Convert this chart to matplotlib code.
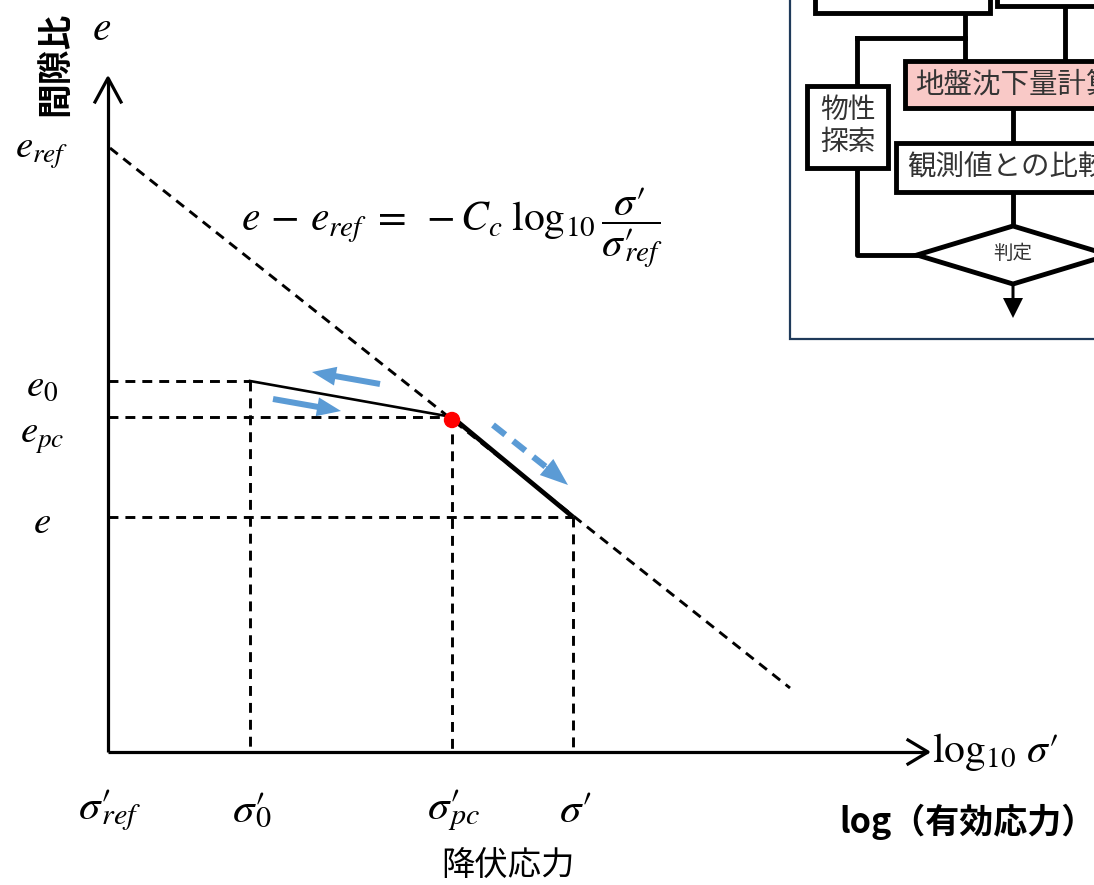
import matplotlib.pyplot as plt
from matplotlib.patches import Rectangle, Polygon, Circle

plt.rcParams['mathtext.fontset'] = 'stix'
CJK = ['Noto Sans CJK JP', 'DejaVu Sans']

# 図の座標（ピクセル、y は下向き）
ax_x0, ax_y0 = 108, 752          # 原点
ax_xend, ax_ytop = 928, 78       # 軸の先端
sigma_x = [108, 250, 452, 573]   # σ'_ref, σ'_0, σ'_pc, σ'
sigma_lbl = [r"$\sigma′_{\!\!\!ref}$", r"$\sigma′_{\!\!\!0}$", r"$\sigma′_{\!\!\!pc}$", r"$\sigma′$"]
e_y = [148, 381, 417, 517]       # e_ref, e_0, e_pc, e
e_lbl = [r"$e_{ref}$", r"$e_0$", r"$e_{pc}$", r"$e$"]
e_lbl_y = [152, 385, 437, 522]
ncl_end = (790, 688)             # 正規圧密線の終点
blue = '#5b9bd5'

fig = plt.figure(figsize=(10.94, 8.85), dpi=100)
ax = fig.add_axes([0, 0, 1, 1])
ax.set_xlim(0, 1094)
ax.set_ylim(885, 0)
ax.axis('off')

dash = (0, (3.4, 2.4))
# 軸
ax.plot([ax_x0, ax_x0], [ax_y0, ax_ytop], color='k', lw=2.3, solid_capstyle='butt')
ax.plot([ax_x0, ax_xend], [ax_y0, ax_y0], color='k', lw=2.3, solid_capstyle='butt')
ax.plot([ax_x0 - 13, ax_x0, ax_x0 + 13], [ax_ytop + 24, ax_ytop, ax_ytop + 24], color='k', lw=2.3)
ax.plot([ax_xend - 20, ax_xend, ax_xend - 20], [ax_y0 - 12, ax_y0, ax_y0 + 12], color='k', lw=2.3)

# 正規圧密線（破線）
ax.plot([sigma_x[0] + 2, ncl_end[0]], [e_y[0], ncl_end[1]], color='k', lw=2.1, linestyle=dash)

# 補助線
for sx, ey in zip(sigma_x[1:], e_y[1:]):
    ax.plot([ax_x0, sx], [ey, ey], color='k', lw=2.1, linestyle=dash)
    ax.plot([sx, sx], [ey, ax_y0], color='k', lw=2.1, linestyle=dash)

# 過圧密・正規圧密の経路
ax.plot([sigma_x[1], sigma_x[2]], [e_y[1], e_y[2]], color='k', lw=1.9)
ax.plot([sigma_x[2], sigma_x[3]], [e_y[2], e_y[3]], color='k', lw=3.4, solid_capstyle='butt')
ax.add_patch(Circle((sigma_x[2], e_y[2] + 3), 7.5, color='red', zorder=5))

# 青い矢印
ax.arrow(380, 384, -68, -12, width=6, head_width=19, head_length=24,
         length_includes_head=True, color=blue, lw=0)
ax.arrow(273, 399, 68, 12, width=6, head_width=19, head_length=24,
         length_includes_head=True, color=blue, lw=0)
ax.plot([493, 546], [425, 467], color=blue, lw=4.5, linestyle=(0, (2.5, 1.6)), solid_capstyle='butt')
ax.arrow(543, 464, 25, 21, width=1, head_width=21, head_length=28,
         length_includes_head=True, color=blue, lw=0)

# ラベル
ax.text(102, 28, r"$e$", fontsize=30, ha='center', va='center')
for yy, lb in zip(e_lbl_y, e_lbl):
    ax.text(42, yy, lb, fontsize=28, ha='center', va='center')
for sx, lb in zip(sigma_x, sigma_lbl):
    ax.text(sx + 2, 810, lb, fontsize=31, ha='center', va='center')
ax.text(452, 228,
        r"$e\,-\,e_{ref}\;=\;-C_c\;\log_{10}\dfrac{\sigma′}{\sigma′_{\!\!\!ref}}$",
        fontsize=30, ha='center', va='center')
ax.text(932, 752, r"$\log_{10}\,\sigma′$", fontsize=30, ha='left', va='center')
ax.text(55, 64, '間隙比', fontsize=25, fontweight='bold', rotation=90,
        ha='center', va='center', family=CJK)
ax.text(1096, 822, 'log（有効応力）', fontsize=24.5, fontweight='bold',
        ha='right', va='center', family=CJK)
ax.text(508, 866, '降伏応力', fontsize=24, ha='center', va='center', family=CJK)

# 右上のフローチャート
lw_f = 3.5
fc = '#333333'
ax.add_patch(Rectangle((790, -10), 320, 349, fill=False, ec='#1f3a5a', lw=1.6, zorder=3))
ax.add_patch(Rectangle((815, -20), 175, 33, fc='white', ec='k', lw=lw_f, zorder=4))
ax.add_patch(Rectangle((997, -20), 120, 26, fc='white', ec='k', lw=lw_f, zorder=4))
ax.plot([965, 965], [13, 60], color='k', lw=lw_f)
ax.plot([1065, 1065], [6, 60], color='k', lw=lw_f)
ax.plot([857, 965], [38, 38], color='k', lw=lw_f)
ax.plot([857, 857], [38, 85], color='k', lw=lw_f)
ax.add_patch(Rectangle((905, 61), 210, 47, fc='#f9c9c7', ec='k', lw=lw_f, zorder=4))
ax.text(915, 85, '地盤沈下量計算', fontsize=20.5, ha='left', va='center', color=fc,
        family=CJK, zorder=5, clip_on=True)
ax.add_patch(Rectangle((807, 86), 81, 82, fc='white', ec='k', lw=lw_f, zorder=4))
ax.text(848, 126, '物性\n探索', fontsize=20, ha='center', va='center', color=fc,
        family=CJK, zorder=5, linespacing=1.05)
ax.plot([1013, 1013], [108, 143], color='k', lw=lw_f)
ax.add_patch(Rectangle((896, 143), 220, 49, fc='white', ec='k', lw=lw_f, zorder=4))
ax.text(907, 168, '観測値との比較', fontsize=20.5, ha='left', va='center', color=fc,
        family=CJK, zorder=5, clip_on=True)
ax.plot([1013, 1013], [192, 226], color='k', lw=lw_f)
ax.add_patch(Polygon([[917, 255], [1013, 226], [1109, 255], [1013, 284]],
                     closed=True, fc='white', ec='k', lw=lw_f, zorder=4))
ax.text(1013, 253, '判定', fontsize=14, ha='center', va='center', color=fc, family=CJK, zorder=5)
ax.plot([857, 857, 917], [168, 255, 255], color='k', lw=lw_f)
ax.arrow(1013, 284, 0, 34, width=3, head_width=20, head_length=20,
         length_includes_head=True, color='k', lw=0, zorder=4)

fig.savefig('out.png', dpi=100)
